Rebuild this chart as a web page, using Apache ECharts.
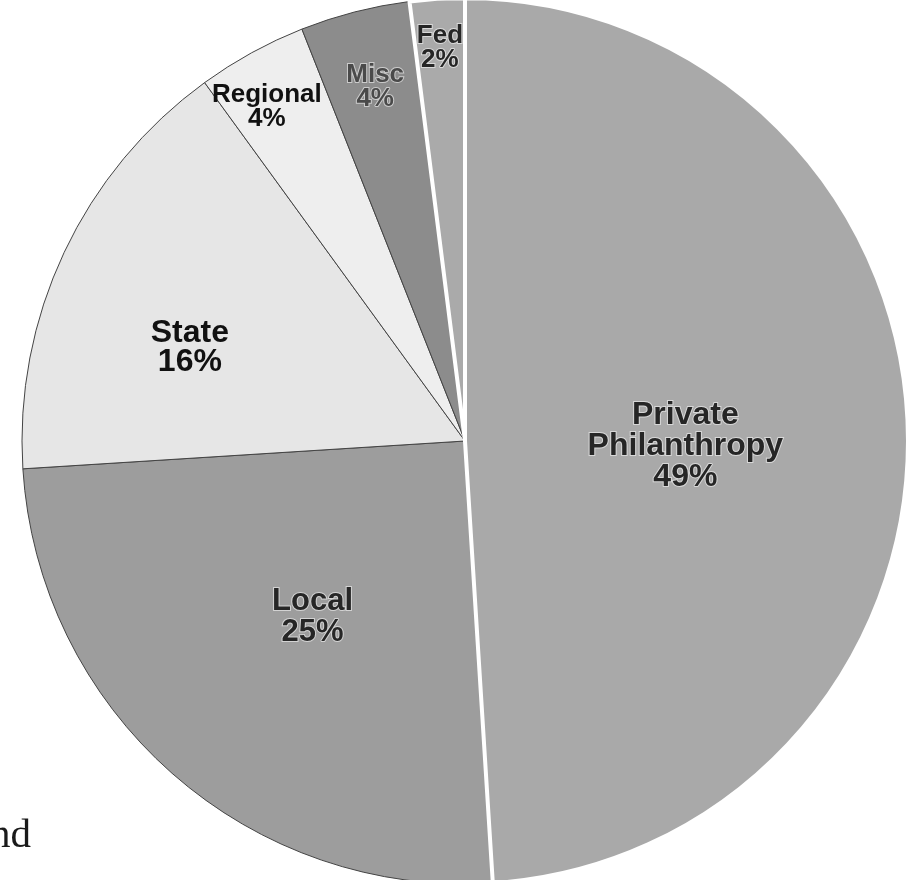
<!DOCTYPE html>
<html>
<head>
<meta charset="utf-8">
<script src="https://cdn.jsdelivr.net/npm/echarts@6/dist/echarts.min.js"></script>
<style>
  html, body { margin: 0; padding: 0; background: #fff; }
  #chart { width: 923px; height: 880px; }
</style>
</head>
<body>
<div id="chart"></div>
<script>
const names = ["Private\nPhilanthropy", "Local", "State", "Regional", "Misc", "Fed"];
const shares = [49, 25, 16, 4, 4, 2];

// look of each slice (scanned greys)
const fills = ["#a9a9a9", "#9d9d9d", "#e6e6e6", "#eeeeee", "#8c8c8c", "#aaaaaa"];
const textColors = ["#262626", "#262626", "#111", "#111", "#4a4a4a", "#262626"];
const fontSizes = [32, 31, 32, 26, 26, 26];
const lineHeights = [31, 31, 29, 24, 24, 24];
const whiteEdge = [true, false, false, false, false, true];
// nudge labels from the slice mid-radius to where the original prints them
const labelNudge = [[-4, 12], [-4, 8], [-72, 2], [-90, -137], [-34, -137], [-11, -169]];

const chart = echarts.init(document.getElementById("chart"));

const baseData = names.map((n, i) => ({
  name: n,
  value: shares[i],
  itemStyle: { color: fills[i] }
}));

const overlayData = names.map((n, i) => ({
  name: n,
  value: shares[i],
  itemStyle: {
    color: "rgba(0,0,0,0)",
    borderColor: "#fff",
    borderWidth: whiteEdge[i] ? 4 : 0
  },
  label: {
    color: textColors[i],
    fontSize: fontSizes[i],
    lineHeight: lineHeights[i],
    textBorderColor: i < 2 || i > 3 ? "rgba(255,255,255,0.55)" : "transparent",
    textBorderWidth: i < 2 || i > 3 ? 2 : 0
  }
}));

const pieCommon = {
  type: "pie",
  center: [465, 441],
  radius: [0, 443],
  startAngle: 90,
  clockwise: true,
  silent: true,
  animation: false,
  labelLine: { show: false }
};

chart.setOption({
  backgroundColor: "#fff",
  series: [
    Object.assign({}, pieCommon, {
      data: baseData,
      itemStyle: { borderColor: "#444", borderWidth: 1 },
      label: { show: false }
    }),
    Object.assign({}, pieCommon, {
      data: overlayData,
      label: {
        show: true,
        position: "inside",
        fontFamily: "Liberation Sans",
        fontWeight: "bold",
        align: "center",
        formatter: (p) => p.name + "\n" + p.value + "%"
      },
      labelLayout: (p) => ({
        dx: labelNudge[p.dataIndex][0],
        dy: labelNudge[p.dataIndex][1]
      })
    })
  ],
  graphic: [
    {
      type: "text",
      style: {
        text: "and",
        x: 31,
        y: 857,
        textAlign: "right",
        textVerticalAlign: "bottom",
        font: "41px 'Liberation Serif'",
        fill: "#1a1a1a"
      }
    }
  ]
});
</script>
</body>
</html>
